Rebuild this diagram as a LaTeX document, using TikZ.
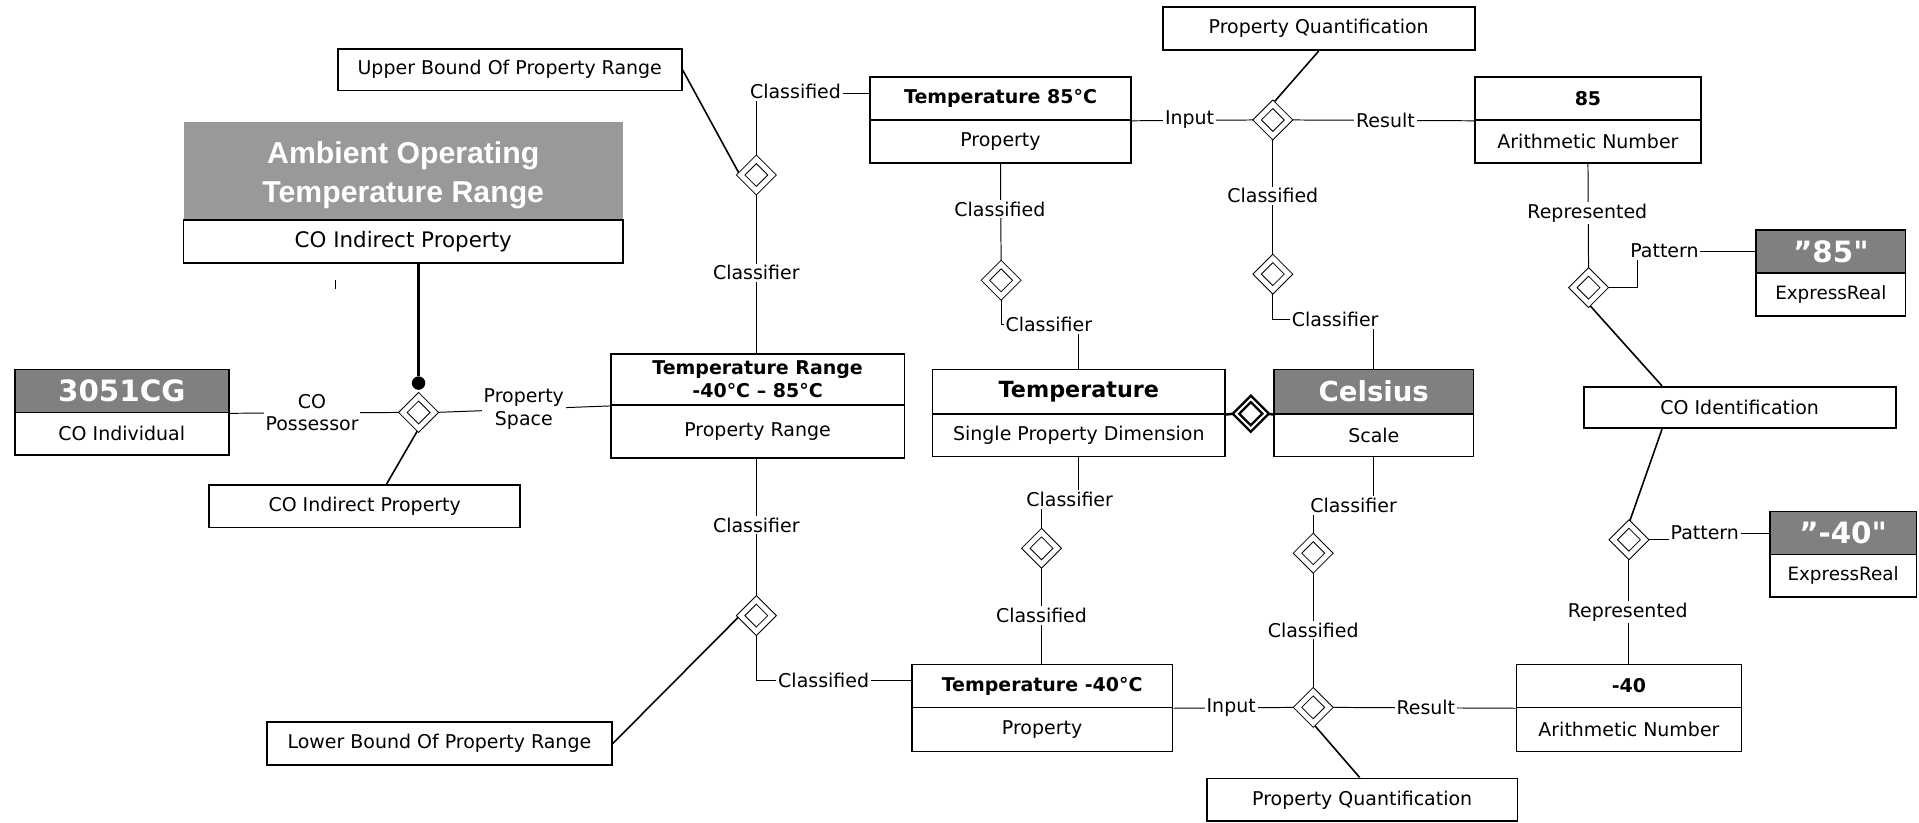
\documentclass[tikz,border=0pt]{standalone}
\usepackage{fontspec}
\setmainfont{DejaVu Sans}
\newfontfamily\titlefont{Liberation Sans}
\usetikzlibrary{shapes.geometric,calc}
\pgfdeclarelayer{bg}
\pgfsetlayers{bg,main}
\definecolor{hdrgray}{HTML}{808080}
\definecolor{titlegray}{HTML}{999999}
% straight double quote, set as a glyph so that no font mapping curls it
\newcommand\straightquote{\XeTeXglyph\XeTeXcharglyph"22\relax}

\tikzset{
  txt/.style={font=\fontsize{15.5}{18.5}\selectfont},
  boldtxt/.style={font=\fontsize{15.5}{19}\selectfont\bfseries},
  cell/.style={draw, line width=1.4pt, fill=white, inner sep=0pt, txt, align=center},
  dark/.style={cell, fill=hdrgray, text=white, font=\fontsize{24}{28}\selectfont\bfseries},
  lbl/.style={fill=white, inner sep=1.5pt, txt, align=center},
  assoc/.style={diamond, draw, line width=0.8pt, double, double distance=4pt, fill=white,
    inner sep=0pt, minimum width=26pt, minimum height=26pt},
  comp/.style={diamond, draw, line width=2pt, double, double distance=1.6pt, fill=white,
    inner sep=0pt, minimum width=25pt, minimum height=25pt},
  link/.style={line width=0.8pt},
  bond/.style={line width=1.3pt},
  heavy/.style={line width=2pt},
}

\begin{document}
\begin{tikzpicture}[x=1pt,y=-1pt]
\useasboundingbox (0,0) rectangle (1568,672);

% ---- left part: the indirect property and its possessor
\node[fill=titlegray, minimum width=359, minimum height=79, inner sep=0pt] (ambH) at (329.5,139.5) {};
\node[text=white, inner sep=0pt, font=\titlefont\fontsize{24.7}{32}\selectfont\bfseries, align=center]
  (ambT) at (329.5,143.5) {Ambient Operating\\Temperature Range};
\node[cell, minimum width=359, minimum height=35, font=\fontsize{17.5}{20}\selectfont] (ambL) at (329.5,197.5) {CO Indirect Property};
\draw[link] (274,229) -- (274,236);

\node[dark, minimum width=175, minimum height=35] (cgH) at (99.5,319.5) {3051CG};
\node[cell, minimum width=175, minimum height=35] (cgL) at (99.5,354.5) {CO Individual};
\node[cell, minimum width=254, minimum height=35] (cip) at (298,413.5) {CO Indirect Property};
\node[cell, minimum width=281, minimum height=34] (ub) at (416.5,57) {Upper Bound Of Property Range};
\node[cell, minimum width=282, minimum height=35] (lb) at (359,607.5) {Lower Bound Of Property Range};

% ---- property range
\node[cell, boldtxt, minimum width=240, minimum height=42] (trH) at (619,310) {Temperature Range\\-40°C – 85°C};
\node[cell, minimum width=240, minimum height=43] (trL) at (619,352.5) {Property Range};

% ---- upper bound property
\node[cell, boldtxt, minimum width=213, minimum height=35] (t85H) at (817.5,80.5) {Temperature 85°C};
\node[cell, minimum width=213, minimum height=35] (t85L) at (817.5,115.5) {Property};
\node[cell, minimum width=255, minimum height=35] (pq1) at (1077.5,23.5) {Property Quantification};
\node[cell, boldtxt, minimum width=185, minimum height=35] (n85H) at (1297.5,80.5) {85};
\node[cell, minimum width=185, minimum height=35] (n85L) at (1297.5,115.5) {Arithmetic Number};

% ---- dimension and scale
\node[cell, font=\fontsize{18.2}{21}\selectfont\bfseries, minimum width=239, minimum height=36] (tmpH) at (881.5,320) {Temperature};
\node[cell, minimum width=239, minimum height=35] (tmpL) at (881.5,355.5) {Single Property Dimension};
\node[dark, font=\fontsize{22.5}{26}\selectfont\bfseries, minimum width=163, minimum height=36] (celH) at (1122.5,320) {Celsius};
\node[cell, minimum width=163, minimum height=35] (celL) at (1122.5,355.5) {Scale};

% ---- number representations
\node[dark, minimum width=122, minimum height=35] (s85H) at (1496,205.5) {”85\straightquote};
\node[cell, font=\fontsize{15}{18}\selectfont, minimum width=122, minimum height=35] (s85L) at (1496,240.5) {ExpressReal};
\node[cell, minimum width=255, minimum height=34] (coid) at (1421.5,333) {CO Identification};
\node[dark, minimum width=120, minimum height=35] (s40H) at (1506,435.5) {”-40\straightquote};
\node[cell, font=\fontsize{15}{18}\selectfont, minimum width=120, minimum height=35] (s40L) at (1506,470.5) {ExpressReal};

% ---- lower bound property
\node[cell, boldtxt, minimum width=213, minimum height=35] (tm40H) at (851.5,560.5) {Temperature -40°C};
\node[cell, minimum width=213, minimum height=36] (tm40L) at (851.5,596) {Property};
\node[cell, boldtxt, minimum width=184, minimum height=35] (m40H) at (1331,560.5) {-40};
\node[cell, minimum width=184, minimum height=36] (m40L) at (1331,596) {Arithmetic Number};
\node[cell, minimum width=254, minimum height=35] (pq2) at (1113,653.5) {Property Quantification};

% ---- relationship diamonds
\node[circle, fill=black, inner sep=0pt, minimum size=11pt] (dot) at (342,313) {};
\node[assoc] (dA) at (342,337) {};
\node[assoc] (dUB) at (618,143) {};
\node[assoc] (dLB) at (618,503) {};
\node[assoc] (dC85) at (818,229) {};
\node[assoc] (dPQ1) at (1040,98) {};
\node[assoc] (dCel1) at (1040,224) {};
\node[assoc] (dRep85) at (1298,235) {};
\node[comp] (dComp) at (1022,338) {};
\node[assoc] (dTc) at (851,448) {};
\node[assoc] (dCel2) at (1073,452) {};
\node[assoc] (dPQ2) at (1073,578) {};
\node[assoc] (dRep40) at (1331,441) {};

% ---- role labels
\node[lbl] (lCo) at (255,337) {CO\\Possessor};
\node[lbl] (lPs) at (428,334) {Property\\Space};
\node[lbl] (lA1) at (650,75) {Classified};
\node[lbl] (lA2) at (618,223) {Classifier};
\node[lbl] (lA3) at (618,429) {Classifier};
\node[lbl] (lA4) at (673,556) {Classified};
\node[lbl] (lB1) at (817,171) {Classified};
\node[lbl] (lB2) at (857,265) {Classifier};
\node[lbl] (lB3) at (874,408) {Classifier};
\node[lbl] (lB4) at (851,503) {Classified};
\node[lbl] (lC1) at (972,98) {Input};
\node[lbl] (lC2) at (1132,98) {Result};
\node[lbl] (lC3) at (1040,160) {Classified};
\node[lbl] (lC4) at (1091,261) {Classifier};
\node[lbl] (lD1) at (1106,413) {Classifier};
\node[lbl] (lD2) at (1073,515) {Classified};
\node[lbl] (lD3) at (1006,578) {Input};
\node[lbl] (lD4) at (1165,578) {Result};
\node[lbl] (lE1) at (1297,174) {Represented};
\node[lbl] (lE2) at (1360,205) {Pattern};
\node[lbl] (lE3) at (1393,435) {Pattern};
\node[lbl] (lE4) at (1330,500) {Represented};

\coordinate (kP1) at (1338,205.5);
\coordinate (kP2) at (1368,435.5);

% ---- connectors, kept under the boxes and labels
\begin{pgfonlayer}{bg}
\draw[heavy] (dot) -- (dot |- ambL.south);
\draw[link] (cgH.south east) -- (dA.west);
\draw[link] (dA.east) -- (trH.south west);
\draw[bond] (dA.south) -- ([xshift=18pt]cip.north);
\draw[bond] (ub.east) -- (dUB.west);
\draw[link] (dUB.north) |- ([yshift=4.5pt]t85H.west);
\draw[link] (dUB.south) -- (dUB.south |- trH.north);
\draw[link] (dLB.north |- trL.south) -- (dLB.north);
\draw[link] (dLB.south) |- ([yshift=4.5pt]tm40H.west);
\draw[bond] (lb.east) -- (dLB.west);
\draw[link] (t85L.south) -- (dC85.north);
\draw[link] (dC85.south) |- (lB2 -| tmpH.north) -- (tmpH.north);
\draw[link] (t85H.south east) -- (dPQ1.west);
\draw[link] (dPQ1.east) -- (n85H.south west);
\draw[bond] (pq1.south) -- (dPQ1.north);
\draw[link] (dPQ1.south) -- (dCel1.north);
\draw[link] (dCel1.south) |- (lC4 -| celH.north) -- (celH.north);
\draw[link] (n85L.south) -- (dRep85.north);
\draw[link] (dRep85.east) -| (kP1) -- (kP1 -| s85H.west);
\draw[bond] (dRep85.south) -- ([xshift=-63.5pt]coid.north);
\draw[bond] ([xshift=-63.5pt]coid.south) -- (dRep40.north);
\draw[link] (dRep40.east) -| (kP2) -- (kP2 -| s40H.west);
\draw[link] (dRep40.south) -- (m40H.north);
\draw[link] (tmpL.south) |- (lB3 -| dTc.north) -- (dTc.north);
\draw[link] (dTc.south) -- (dTc.south |- tm40H.north);
\draw[link] (tm40H.south east) -- (dPQ2.west);
\draw[link] (dPQ2.east) -- (m40H.south west);
\draw[bond] (dPQ2.south) -- ([xshift=-2pt]pq2.north);
\draw[link] (dCel2.south) -- (dPQ2.north);
\draw[link] (celL.south) |- (lD1 -| dCel2.north) -- (dCel2.north);
\draw[heavy] (tmpH.south east) -- (dComp.west);
\draw[heavy] (dComp.east) -- (celH.south west);
\end{pgfonlayer}
\end{tikzpicture}
\end{document}
